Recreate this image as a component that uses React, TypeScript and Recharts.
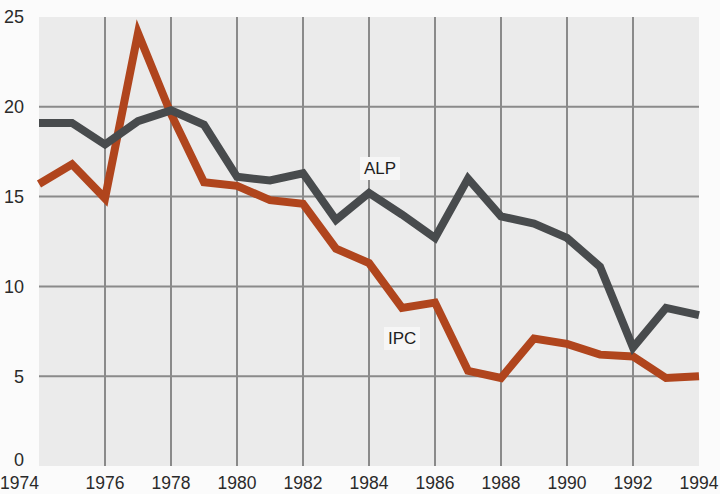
import React from 'react';
import { LineChart, Line, XAxis, YAxis, CartesianGrid } from 'recharts';

const years = [1974, 1975, 1976, 1977, 1978, 1979, 1980, 1981, 1982, 1983, 1984, 1985, 1986, 1987, 1988, 1989, 1990, 1991, 1992, 1993, 1994];
const alp = [19.1, 19.1, 17.9, 19.2, 19.8, 19.0, 16.1, 15.9, 16.3, 13.7, 15.2, 14.0, 12.7, 16.0, 13.9, 13.5, 12.7, 11.1, 6.6, 8.8, 8.4];
const ipc = [15.7, 16.8, 14.9, 24.1, 19.6, 15.8, 15.6, 14.8, 14.6, 12.1, 11.3, 8.8, 9.1, 5.3, 4.9, 7.1, 6.8, 6.2, 6.1, 4.9, 5.0];
const xTicks = [1974, 1976, 1978, 1980, 1982, 1984, 1986, 1988, 1990, 1992, 1994];
const yTicks = [0, 5, 10, 15, 20, 25];
const gridX = [1976, 1978, 1980, 1982, 1984, 1986, 1988, 1990, 1992];
const gridY = [5, 10, 15, 20];

const data = years.map((year, i) => ({ year, alp: alp[i], ipc: ipc[i] }));

const font = '"Liberation Sans", Arial, sans-serif';

function XTick({ x, y, payload }: any) {
  const first = payload.value === 1974;
  return (
    <text
      x={first ? 0 : x}
      y={y + 2}
      dy="0.75em"
      textAnchor={first ? 'start' : 'middle'}
      fontSize={17.5}
      fontFamily={font}
      fill="#2a2a2a"
    >
      {payload.value}
    </text>
  );
}

function YTick({ x, y, payload }: any) {
  // the bottom "0" sits a little higher so it clears the first year label
  const lift = payload.value === 0 ? 6 : 0;
  return (
    <text
      x={x - 7}
      y={y - lift}
      dy="0.35em"
      textAnchor="end"
      fontSize={18}
      fontFamily={font}
      fill="#2a2a2a"
    >
      {payload.value}
    </text>
  );
}

const tag: React.CSSProperties = {
  position: 'absolute',
  fontFamily: font,
  fontSize: 17,
  color: '#1e1e1e',
  background: '#f6f6f6',
  padding: '2px 4px',
  lineHeight: '19px',
};

export default function App() {
  return (
    <div style={{ position: 'absolute', left: 0, top: 0, width: 720, height: 494, background: '#fbfbfb' }}>
      <LineChart width={720} height={494} data={data} margin={{ top: 17, right: 21, bottom: 0, left: 0 }}>
        <CartesianGrid
          fill="#ebebeb"
          stroke="#8a8a8a"
          strokeWidth={2}
          verticalValues={gridX}
          horizontalValues={gridY}
        />
        <XAxis
          dataKey="year"
          type="number"
          domain={[1974, 1994]}
          ticks={xTicks}
          height={28}
          axisLine={false}
          tickLine={false}
          tick={<XTick />}
        />
        <YAxis
          type="number"
          domain={[0, 25]}
          ticks={yTicks}
          width={39}
          axisLine={false}
          tickLine={false}
          tick={<YTick />}
        />
        <Line type="linear" dataKey="ipc" stroke="#b0451d" strokeWidth={8} dot={false} isAnimationActive={false} />
        <Line type="linear" dataKey="alp" stroke="#484b4d" strokeWidth={8} dot={false} isAnimationActive={false} />
      </LineChart>
      <div style={{ ...tag, left: 360, top: 157 }}>ALP</div>
      <div style={{ ...tag, left: 384, top: 327 }}>IPC</div>
    </div>
  );
}
